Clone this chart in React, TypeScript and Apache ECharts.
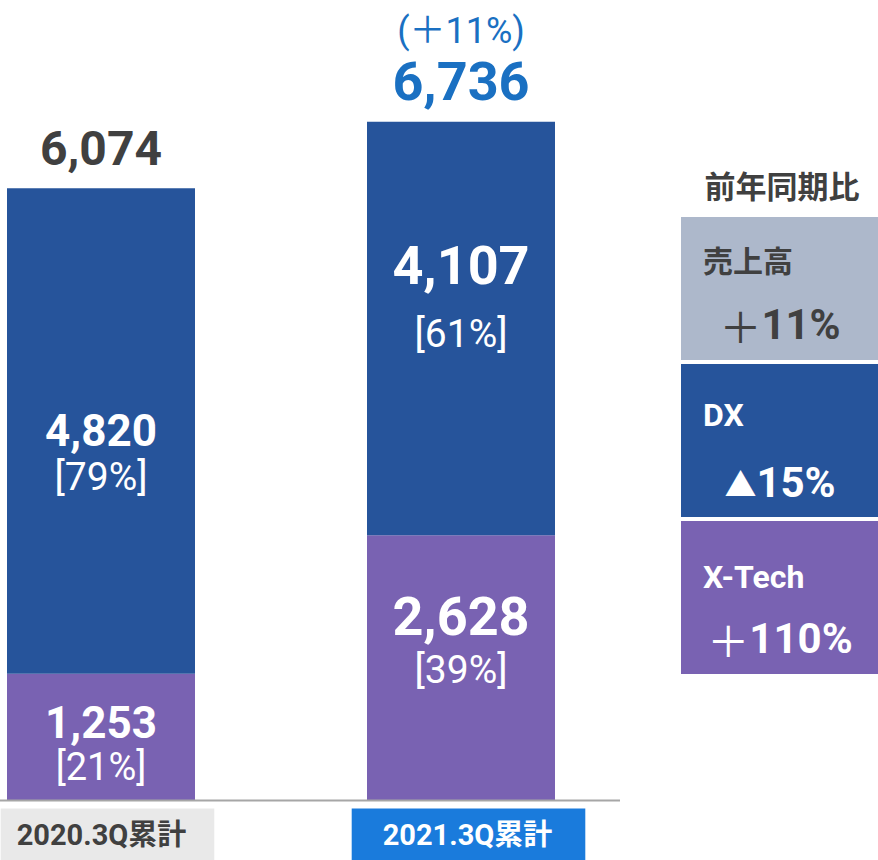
import React, { useEffect, useRef } from 'react';
import * as echarts from 'echarts';

// ---- data ----
const categories = ['2020.3Q累計', '2021.3Q累計'];
const dxValues = [4820, 4107];
const xtechValues = [1253, 2628];
const totalValues = [6074, 6736];
const dxShares = ['79%', '61%'];
const xtechShares = ['21%', '39%'];
const totalGrowth = ['', '11%'];
const yoyHeader = '前年同期比';
const yoyLabels = ['売上高', 'DX', 'X-Tech'];
const yoySigns = ['＋', '▲', '＋'];
const yoyRates = ['11%', '15%', '110%'];

// ---- styles ----
const FONT = "Roboto, 'Noto Sans CJK JP', sans-serif";
const JP = "'Noto Sans CJK JP', sans-serif";
const DX_COLOR = '#26549b';
const XT_COLOR = '#7962b2';
const DARK = '#404040';
const BLUE = '#1a70c2';

const dxLabelLayout = [
  { offset: 21, v: 44, vl: 50, p: 39, pl: 42 },
  { offset: -40, v: 54, vl: 90, p: 39, pl: 46 },
];
const xtLabelLayout = [
  { offset: 7, v: 44, vl: 47, p: 38, pl: 41 },
  { offset: -28, v: 54, vl: 60, p: 39, pl: 46 },
];

const cellStyles = [
  { y: 217, h: 143, fill: '#adb8cb', fg: DARK, ly: 261, vy: 324 },
  { y: 364, h: 153, fill: DX_COLOR, fg: '#ffffff', ly: 415, vy: 482 },
  { y: 521, h: 153, fill: XT_COLOR, fg: '#ffffff', ly: 577, vy: 638 },
];

const fmt = (v: number) => v.toLocaleString('en-US');

function segItems(values: number[], shares: string[], layout: typeof dxLabelLayout) {
  return values.map((v, i) => ({
    value: v,
    label: {
      show: true,
      position: 'inside',
      offset: [0, layout[i].offset],
      formatter: `{v|${fmt(v)}}\n{p|[${shares[i]}]}`,
      rich: {
        v: { fontSize: layout[i].v, lineHeight: layout[i].vl, fontWeight: 'bold', color: '#fff', fontFamily: FONT },
        p: { fontSize: layout[i].p, lineHeight: layout[i].pl, fontWeight: 'normal', color: '#fff', fontFamily: FONT },
      },
    },
  }));
}

export default function App() {
  const ref = useRef<HTMLDivElement>(null);
  useEffect(() => {
    if (!ref.current) return;
    const chart = echarts.init(ref.current, undefined, { renderer: 'svg' });

    const graphics: any[] = [
      {
        type: 'line',
        shape: { x1: 0, y1: 800.5, x2: 620, y2: 800.5 },
        style: { stroke: '#a6a6a6', lineWidth: 2 },
        z: 10,
      },
      {
        type: 'text',
        x: 782,
        y: 184,
        style: { text: yoyHeader, fill: DARK, fontSize: 31, fontWeight: 'bold', fontFamily: JP, align: 'center', verticalAlign: 'middle' },
      },
    ];
    yoyLabels.forEach((lab, i) => {
      const c = cellStyles[i];
      graphics.push({ type: 'rect', shape: { x: 681, y: c.y, width: 197, height: c.h }, style: { fill: c.fill } });
      graphics.push({
        type: 'text',
        x: 703,
        y: c.ly,
        style: { text: lab, fill: c.fg, fontSize: i === 0 ? 30 : 32, fontWeight: 'bold', fontFamily: FONT, align: 'left', verticalAlign: 'middle' },
      });
      graphics.push({
        type: 'text',
        x: 780,
        y: c.vy,
        style: {
          text: `{s|${yoySigns[i]}}{b|${yoyRates[i]}}`,
          align: 'center',
          verticalAlign: 'middle',
          rich: {
            s: { fill: c.fg, fontSize: i === 1 ? 32 : 42, fontWeight: i === 1 ? 'bold' : 'normal', fontFamily: JP },
            b: { fill: c.fg, fontSize: 42, fontWeight: 'bold', fontFamily: FONT },
          },
        },
      });
    });

    chart.setOption({
      animation: false,
      grid: { left: -79, width: 720, top: 95, bottom: 60, outerBoundsMode: 'none', containLabel: false },
      xAxis: {
        type: 'category',
        data: categories,
        axisLine: { show: false },
        axisTick: { show: false },
        axisLabel: {
          interval: 0,
          margin: 20,
          formatter: (v: string, i: number) => (i === 0 ? `{s0| }{a|${v}}` : `{s1| }{b|${v}}`),
          rich: {
            s0: { width: 13 },
            s1: { width: 15 },
            a: {
              backgroundColor: '#e9e9e9', color: DARK, fontSize: 29, fontWeight: 'bold', fontFamily: FONT,
              lineHeight: 29, padding: [12, 28, 11, 16],
            },
            b: {
              backgroundColor: '#1a7bdc', color: '#fff', fontSize: 29, fontWeight: 'bold', fontFamily: FONT,
              lineHeight: 29, padding: [12, 33, 11, 31],
            },
          },
        },
      },
      yAxis: { type: 'value', min: 0, max: 7000, show: false, splitLine: { show: false } },
      series: [
        {
          name: 'X-Tech',
          type: 'bar',
          stack: 'sales',
          barWidth: 188,
          barGap: '-100%',
          itemStyle: { color: XT_COLOR },
          data: segItems(xtechValues, xtechShares, xtLabelLayout),
        },
        {
          name: 'DX',
          type: 'bar',
          stack: 'sales',
          barWidth: 188,
          barGap: '-100%',
          itemStyle: { color: DX_COLOR },
          data: segItems(dxValues, dxShares, dxLabelLayout),
        },
        {
          name: '合計',
          type: 'bar',
          barWidth: 188,
          barGap: '-100%',
          itemStyle: { color: 'rgba(0,0,0,0)' },
          z: 1,
          data: totalValues,
          label: {
            show: true,
            position: 'top',
            distance: 12,
            formatter: (p: any) =>
              totalGrowth[p.dataIndex]
                ? `{g|(＋${totalGrowth[p.dataIndex]})}\n{t1|${fmt(p.value)}}`
                : `{t0|${fmt(p.value)}}`,
            rich: {
              t0: { fontSize: 48, lineHeight: 56, fontWeight: 'bold', color: DARK, fontFamily: FONT },
              t1: { fontSize: 54, lineHeight: 56, fontWeight: 'bold', color: BLUE, fontFamily: FONT },
              g: { fontSize: 36, lineHeight: 46, fontWeight: 'normal', color: BLUE, fontFamily: FONT },
            },
          },
        },
      ],
      graphic: graphics,
    });
    return () => chart.dispose();
  }, []);
  return <div ref={ref} style={{ position: 'absolute', left: 0, top: 0, width: 878, height: 860 }} />;
}
